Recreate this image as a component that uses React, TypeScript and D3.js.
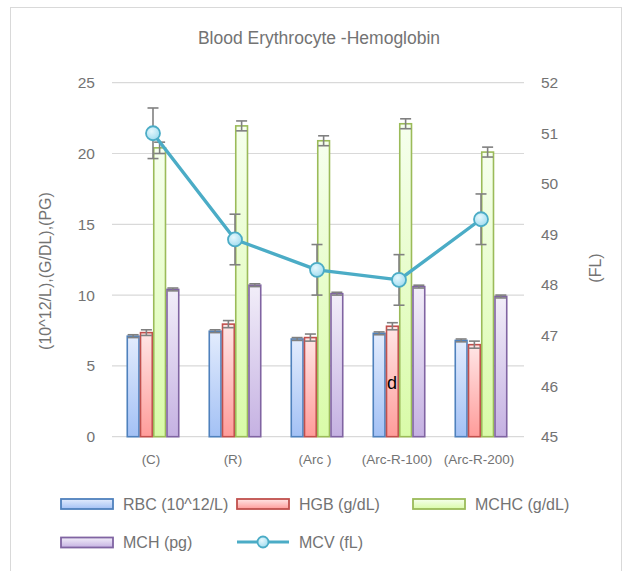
import React from "react";
import * as d3 from "d3";

const categories = ["(C)", "(R)", "(Arc )", "(Arc-R-100)", "(Arc-R-200)"];
const rbc = [7.1, 7.45, 6.9, 7.3, 6.8];
const rbcErr = [0.1, 0.1, 0.1, 0.1, 0.1];
const hgb = [7.35, 7.95, 7.0, 7.8, 6.5];
const hgbErr = [0.2, 0.25, 0.25, 0.25, 0.25];
const mchc = [20.4, 21.95, 20.9, 22.1, 20.1];
const mchcErr = [0.4, 0.35, 0.35, 0.35, 0.35];
const mch = [10.4, 10.7, 10.1, 10.6, 9.9];
const mchErr = [0.1, 0.1, 0.1, 0.1, 0.1];
const mcv = [51.0, 48.9, 48.3, 48.1, 49.3];
const mcvErr = [0.5, 0.5, 0.5, 0.5, 0.5];
const leftTicks = [0, 5, 10, 15, 20, 25];
const rightTicks = [45, 46, 47, 48, 49, 50, 51, 52];

const barSeries = [
  { key: "RBC (10^12/L)", values: rbc, errs: rbcErr, stroke: "#4f81bd", top: "#e3ecfd", bottom: "#a3c1f5" },
  { key: "HGB (g/dL)", values: hgb, errs: hgbErr, stroke: "#c0504d", top: "#ffe6e6", bottom: "#ff9c9a" },
  { key: "MCHC (g/dL)", values: mchc, errs: mchcErr, stroke: "#9bbb59", top: "#f6ffee", bottom: "#d9fba8" },
  { key: "MCH (pg)", values: mch, errs: mchErr, stroke: "#8064a2", top: "#f2eef9", bottom: "#c5b1e2" },
];

const FONT = "'Liberation Sans', Arial, sans-serif";
const TXT = "#737373";

export default function App() {
  const x = d3.scaleBand<string>().domain(categories).range([112, 522]).paddingInner(0.354).paddingOuter(0.177);
  const xs = d3.scaleBand<string>().domain(barSeries.map((s) => s.key)).range([0, x.bandwidth()]);
  const yL = d3.scaleLinear().domain([0, 25]).range([436.7, 82.7]);
  const yR = d3.scaleLinear().domain([45, 52]).range([436.7, 82.7]);
  const line = d3
    .line<number>()
    .x((_, i) => (x(categories[i]) as number) + x.bandwidth() / 2)
    .y((v) => yR(v));

  const errBar = (cx: number, y1: number, y2: number, k: string) => (
    <g key={k} stroke="#808080" strokeWidth={1.6}>
      <line x1={cx} x2={cx} y1={y1} y2={y2} />
      <line x1={cx - 5.5} x2={cx + 5.5} y1={y1} y2={y1} />
      <line x1={cx - 5.5} x2={cx + 5.5} y1={y2} y2={y2} />
    </g>
  );

  const legendItems = [
    { ...barSeries[0], lx: 61, ly: 504 },
    { ...barSeries[1], lx: 237, ly: 504 },
    { ...barSeries[2], lx: 413, ly: 504 },
    { ...barSeries[3], lx: 61, ly: 542.5 },
  ];

  return (
    <svg width={625} height={571} style={{ position: "absolute", left: 0, top: 0 }} fontFamily={FONT}>
      <defs>
        {barSeries.map((s, i) => (
          <linearGradient key={i} id={`g${i}`} x1="0" x2="0" y1="0" y2="1">
            <stop offset="0" stopColor={s.top} />
            <stop offset="1" stopColor={s.bottom} />
          </linearGradient>
        ))}
        <radialGradient id="mk" cx="0.4" cy="0.35" r="0.7">
          <stop offset="0" stopColor="#e6f8fd" />
          <stop offset="1" stopColor="#9edbef" />
        </radialGradient>
      </defs>
      <rect x={0} y={0} width={625} height={571} fill="#fff" />
      <rect x={10.5} y={7.5} width={611} height={600} fill="none" stroke="#d9d9d9" strokeWidth={1} />
      <text x={319} y={44} textAnchor="middle" fontSize={17.5} fill={TXT}>
        Blood Erythrocyte -Hemoglobin
      </text>

      {leftTicks.map((t) => (
        <g key={`l${t}`}>
          <line x1={112} x2={524} y1={yL(t)} y2={yL(t)} stroke="#d9d9d9" strokeWidth={1.2} />
          <text x={95} y={yL(t)} dy="0.35em" textAnchor="end" fontSize={15.5} fill={TXT}>
            {t}
          </text>
        </g>
      ))}
      {rightTicks.map((t) => (
        <text key={`r${t}`} x={541} y={yR(t)} dy="0.35em" textAnchor="start" fontSize={15.5} fill={TXT}>
          {t}
        </text>
      ))}
      <text transform="translate(51,271) rotate(-90)" textAnchor="middle" fontSize={16} fill={TXT}>
        (10^12/L),(G/DL),(PG)
      </text>
      <text transform="translate(601,268) rotate(-90)" textAnchor="middle" fontSize={16} fill={TXT}>
        (FL)
      </text>

      {categories.map((c) => (
        <text key={c} x={(x(c) as number) + x.bandwidth() / 2 - 2} y={464} textAnchor="middle" fontSize={13.5} fill={TXT}>
          {c}
        </text>
      ))}

      {barSeries.map((s, si) =>
        categories.map((c, i) => {
          const bx = (x(c) as number) + (xs(s.key) as number);
          const bw = xs.bandwidth();
          return (
            <rect
              key={`b${si}-${i}`}
              x={bx + 0.75}
              y={yL(s.values[i])}
              width={bw - 1.5}
              height={yL(0) - yL(s.values[i])}
              fill={`url(#g${si})`}
              stroke={s.stroke}
              strokeWidth={1.6}
            />
          );
        })
      )}
      {barSeries.map((s, si) =>
        categories.map((c, i) => {
          const cx = (x(c) as number) + (xs(s.key) as number) + xs.bandwidth() / 2;
          return errBar(cx, yL(s.values[i] + s.errs[i]), yL(s.values[i] - s.errs[i]), `e${si}-${i}`);
        })
      )}

      <text x={392} y={389} textAnchor="middle" fontSize={18} fill="#000">
        d
      </text>

      <path d={line(mcv) as string} fill="none" stroke="#4bacc6" strokeWidth={3.4} strokeLinejoin="round" />
      {categories.map((c, i) => {
        const cx = (x(c) as number) + x.bandwidth() / 2;
        return errBar(cx, yR(mcv[i] + mcvErr[i]), yR(mcv[i] - mcvErr[i]), `m${i}`);
      })}
      {categories.map((c, i) => (
        <circle
          key={`c${i}`}
          cx={(x(c) as number) + x.bandwidth() / 2}
          cy={yR(mcv[i])}
          r={7}
          fill="url(#mk)"
          stroke="#4bacc6"
          strokeWidth={1.8}
        />
      ))}

      {legendItems.map((s, i) => (
        <g key={`lg${i}`}>
          <rect x={s.lx} y={s.ly - 5} width={52} height={10} fill={`url(#g${barSeries.findIndex((b) => b.key === s.key)})`} stroke={s.stroke} strokeWidth={1.8} />
          <text x={s.lx + 62} y={s.ly} dy="0.35em" fontSize={16} fill={TXT}>
            {s.key}
          </text>
        </g>
      ))}
      <g>
        <line x1={237} x2={289} y1={542} y2={542} stroke="#4bacc6" strokeWidth={3.2} />
        <circle cx={263} cy={542} r={5.5} fill="url(#mk)" stroke="#4bacc6" strokeWidth={1.8} />
        <text x={299} y={542} dy="0.35em" fontSize={16} fill={TXT}>
          MCV (fL)
        </text>
      </g>
    </svg>
  );
}
